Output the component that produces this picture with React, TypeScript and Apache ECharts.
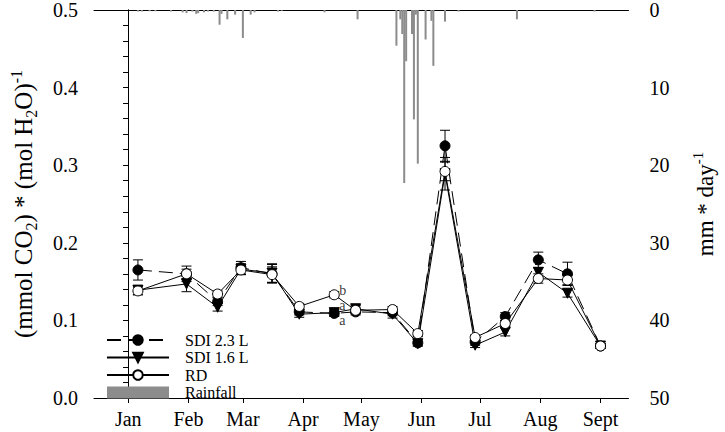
import React, { useEffect, useRef } from "react";
import * as echarts from "echarts";

// Day of year (Jan 1 = 0) of each sampling date
const sampleDays = [5, 30, 46, 58, 74, 88, 106, 117, 136, 149, 163, 178.5, 194, 211, 226, 243];
const sdi23 = [0.165, 0.160, 0.124, 0.168, 0.160, 0.111, 0.109, 0.111, 0.110, 0.071, 0.325, 0.072, 0.105, 0.178, 0.160, 0.067];
const sdi16 = [0.139, 0.147, 0.117, 0.166, 0.161, 0.108, 0.110, 0.115, 0.108, 0.070, 0.289, 0.068, 0.085, 0.162, 0.135, 0.067];
const rd = [0.138, 0.160, 0.134, 0.165, 0.159, 0.118, 0.133, 0.113, 0.114, 0.083, 0.292, 0.078, 0.096, 0.154, 0.152, 0.067];
const sdi23Err = [0.013, 0.006, 0.005, 0.008, 0.012, 0.004, 0.004, 0.004, 0.004, 0.004, 0.020, 0.004, 0.005, 0.010, 0.015, 0.003];
const sdi16Err = [0.006, 0.010, 0.005, 0.007, 0.012, 0.004, 0.004, 0.004, 0.005, 0.003, 0.021, 0.003, 0.005, 0.006, 0.005, 0.003];
const rdErr = [0.005, 0.010, 0.004, 0.006, 0.010, 0.004, 0.004, 0.004, 0.004, 0.004, 0.012, 0.003, 0.004, 0.006, 0.006, 0.003];

// Daily rainfall (mm/day)
const rainDays = [5, 7, 11, 14, 22, 28, 30, 33, 35, 36, 39, 41, 44, 47, 48, 51, 55, 59, 63, 65, 77, 79, 101, 118, 138, 140, 141, 142, 143, 146, 147, 148, 149, 153, 156, 157, 163, 170, 200, 240];
const rainMm = [0.2, 0.2, 0.15, 0.15, 0.2, 0.3, 0.4, 0.2, 0.5, 0.4, 0.3, 0.2, 0.2, 1.9, 0.5, 1.2, 0.6, 3.6, 0.6, 0.3, 0.2, 0.1, 0.3, 1.2, 4.6, 1.2, 3.1, 22.3, 6.6, 3.1, 14.1, 0.6, 19.8, 3.8, 1.4, 7.2, 1.5, 0.2, 1.2, 0.2];

// Month ticks
const monthStarts = [0, 31, 59, 90, 120, 151, 181, 212, 243];
const monthLabels = ["Jan", "Feb", "Mar", "Apr", "May", "Jun", "Jul", "Aug", "Sept"];

// Significance letters
const letterDays = [108.5, 108.5, 108.5];
const letterValues = [0.1385, 0.1195, 0.1];
const letterTexts = ["b", "a", "a"];

const FONT = "Liberation Serif";

export default function App() {
  const ref = useRef<HTMLDivElement>(null);
  useEffect(() => {
    if (!ref.current) return;
    const chart = echarts.init(ref.current, undefined, { renderer: "svg" });
    const xMin = -17.6;
    const xMax = 257.4;

    const errSeries = (name: string, vals: number[], errs: number[]) => ({
      type: "custom",
      name,
      xAxisIndex: 0,
      yAxisIndex: 0,
      silent: true,
      z: 1,
      data: sampleDays.map((d, i) => [d, vals[i], errs[i]]),
      encode: { x: 0, y: 1 },
      renderItem: (params: any, api: any) => {
        const x = api.value(0);
        const y = api.value(1);
        const e = api.value(2);
        const top = api.coord([x, y + e]);
        const bot = api.coord([x, y - e]);
        const hw = 5;
        const st = { stroke: "#000", lineWidth: 1 };
        return {
          type: "group",
          children: [
            { type: "line", shape: { x1: top[0], y1: top[1], x2: bot[0], y2: bot[1] }, style: st },
            { type: "line", shape: { x1: top[0] - hw, y1: top[1], x2: top[0] + hw, y2: top[1] }, style: st },
            { type: "line", shape: { x1: bot[0] - hw, y1: bot[1], x2: bot[0] + hw, y2: bot[1] }, style: st },
          ],
        };
      },
    });

    const option: any = {
      animation: false,
      backgroundColor: "#fff",
      textStyle: { fontFamily: FONT, color: "#000" },
      grid: { left: 91, right: 90, top: 9, bottom: 34, containLabel: false },
      legend: {
        orient: "vertical",
        left: 101,
        top: 327,
        itemWidth: 62,
        itemHeight: 12,
        itemGap: 1.5,
        formatter: "{g|}{t|{name}}",
        textStyle: {
          fontFamily: FONT,
          fontSize: 16,
          color: "#000",
          rich: {
            g: { width: 11 },
            t: { fontFamily: FONT, fontSize: 16, color: "#000" },
          },
        },
        data: [
          { name: "SDI 2.3 L" },
          { name: "SDI 1.6 L" },
          { name: "RD" },
          { name: "Rainfall", icon: "rect" },
        ],
      },
      xAxis: [
        {
          type: "value",
          min: xMin,
          max: xMax,
          position: "bottom",
          splitLine: { show: false },
          axisLine: { show: true, lineStyle: { color: "#000", width: 1 } },
          axisTick: { show: true, customValues: monthStarts, length: 5, lineStyle: { color: "#000" } },
          axisLabel: {
            customValues: monthStarts,
            formatter: (v: number) => monthLabels[monthStarts.indexOf(v)] ?? "",
            fontFamily: FONT,
            fontSize: 20,
            color: "#000",
            margin: 11,
          },
        },
        {
          type: "value",
          min: xMin,
          max: xMax,
          position: "top",
          splitLine: { show: false },
          axisLine: { show: true, lineStyle: { color: "#000", width: 1 } },
          axisTick: { show: false },
          axisLabel: { show: false },
        },
      ],
      yAxis: [
        {
          type: "value",
          min: 0,
          max: 0.5,
          interval: 0.1,
          position: "left",
          splitLine: { show: false },
          axisLine: { show: true, lineStyle: { color: "#000" } },
          axisTick: { show: true, length: 5, lineStyle: { color: "#000" } },
          minorTick: { show: true, splitNumber: 5, length: 5, lineStyle: { color: "#000" } },
          axisLabel: {
            formatter: (v: number) => v.toFixed(1),
            fontFamily: FONT,
            fontSize: 20,
            color: "#000",
            margin: 16,
          },
          name: "{a|(mmol CO}{sub|2}{a|) * (mol H}{sub|2}{a|O)}{sup|-1}",
          nameLocation: "middle",
          nameRotate: 90,
          nameGap: 55,
          nameTextStyle: {
            fontFamily: FONT,
            color: "#000",
            rich: {
              a: { fontFamily: FONT, fontSize: 25, color: "#000", lineHeight: 31 },
              sub: { fontFamily: FONT, fontSize: 16, color: "#000", verticalAlign: "bottom", lineHeight: 31 },
              sup: { fontFamily: FONT, fontSize: 16, color: "#000", verticalAlign: "top", lineHeight: 31 },
            },
          },
        },
        {
          type: "value",
          min: 0,
          max: 50,
          interval: 10,
          inverse: true,
          position: "right",
          splitLine: { show: false },
          axisLine: { show: true, lineStyle: { color: "#000" } },
          axisTick: { show: true, inside: true, length: 5, lineStyle: { color: "#000" } },
          minorTick: { show: true, splitNumber: 5, length: 5, lineStyle: { color: "#000" } },
          axisLabel: { fontFamily: FONT, fontSize: 20, color: "#000", margin: 21 },
          name: "{a|mm * day}{sup|-1}",
          nameLocation: "middle",
          nameRotate: 90,
          nameGap: 62,
          nameTextStyle: {
            fontFamily: FONT,
            color: "#000",
            rich: {
              a: { fontFamily: FONT, fontSize: 23, color: "#000", lineHeight: 30 },
              sup: { fontFamily: FONT, fontSize: 15, color: "#000", verticalAlign: "top", lineHeight: 30 },
            },
          },
        },
      ],
      series: [
        {
          name: "Rainfall",
          type: "bar",
          xAxisIndex: 0,
          yAxisIndex: 1,
          barWidth: 2,
          itemStyle: { color: "#8c8c8c" },
          data: rainDays.map((d, i) => [d, rainMm[i]]),
          z: 0,
        },
        errSeries("errSDI23", sdi23, sdi23Err),
        errSeries("errSDI16", sdi16, sdi16Err),
        errSeries("errRD", rd, rdErr),
        {
          name: "SDI 2.3 L",
          type: "line",
          xAxisIndex: 0,
          yAxisIndex: 0,
          symbol: "circle",
          symbolSize: 10,
          lineStyle: { color: "#000", width: 1, type: [14, 7] },
          itemStyle: { color: "#000", borderColor: "#000", borderWidth: 1 },
          data: sampleDays.map((d, i) => [d, sdi23[i]]),
          z: 3,
        },
        {
          name: "SDI 1.6 L",
          type: "line",
          xAxisIndex: 0,
          yAxisIndex: 0,
          symbol: "triangle",
          symbolRotate: 180,
          symbolSize: 10,
          lineStyle: { color: "#000", width: 1 },
          itemStyle: { color: "#000", borderColor: "#000", borderWidth: 1 },
          data: sampleDays.map((d, i) => [d, sdi16[i]]),
          z: 4,
        },
        {
          name: "RD",
          type: "line",
          xAxisIndex: 0,
          yAxisIndex: 0,
          symbol: "circle",
          symbolSize: 10,
          lineStyle: { color: "#000", width: 1 },
          itemStyle: { color: "#fff", borderColor: "#000", borderWidth: 1 },
          data: sampleDays.map((d, i) => [d, rd[i]]),
          z: 5,
        },
        {
          name: "letters",
          type: "scatter",
          xAxisIndex: 0,
          yAxisIndex: 0,
          symbolSize: 0.1,
          silent: true,
          z: 6,
          itemStyle: { color: "#000" },
          label: {
            show: true,
            position: "right",
            distance: 0,
            fontFamily: FONT,
            fontSize: 14,
            lineHeight: 11,
            color: "#000",
            formatter: (p: any) => letterTexts[p.dataIndex],
          },
          labelLayout: { hideOverlap: false },
          data: letterDays.map((d, i) => [d, letterValues[i]]),
        },
      ],
    };
    chart.setOption(option);
    return () => chart.dispose();
  }, []);
  return <div ref={ref} style={{ position: "absolute", left: 0, top: 0, width: 725, height: 432 }} />;
}
